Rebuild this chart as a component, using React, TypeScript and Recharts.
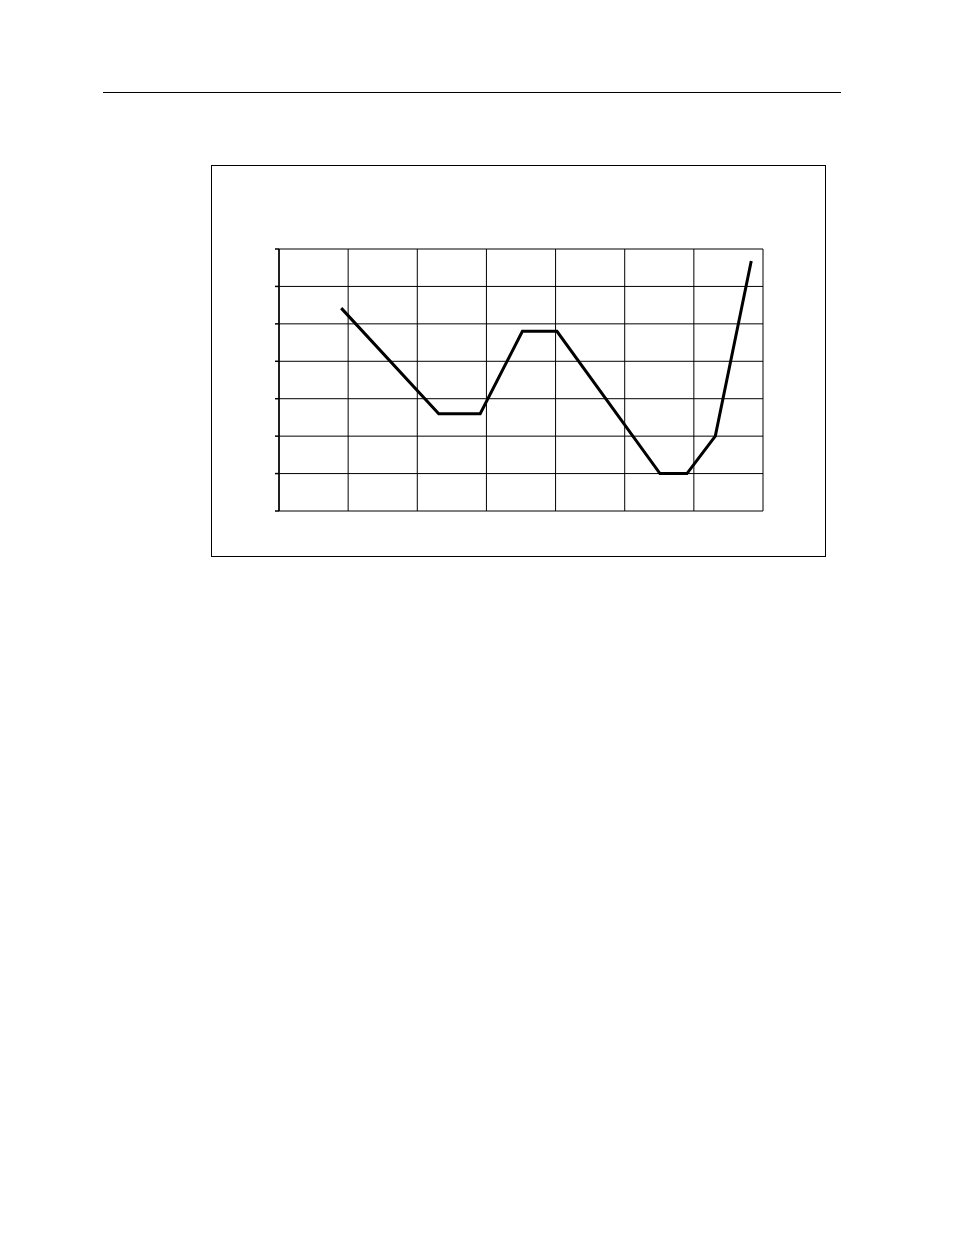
import { LineChart, Line, XAxis, YAxis, CartesianGrid } from 'recharts';

const xValues = [0.9, 2.31, 2.91, 3.52, 4.02, 5.51, 5.9, 6.31, 6.83];
const yValues = [5.42, 2.6, 2.6, 4.8, 4.8, 1.0, 1.0, 2.0, 6.68];
const gridTicks = [0, 1, 2, 3, 4, 5, 6, 7];

const data = xValues.map((x, i) => ({ x, y: yValues[i] }));

export default function App() {
  return (
    <div style={{ position: 'absolute', left: 0, top: 0, width: 954, height: 1235, background: '#fff' }}>
      <div style={{ position: 'absolute', left: 103, top: 92, width: 738, height: 0, borderTop: '1px solid #000' }} />
      <div style={{ position: 'absolute', left: 211, top: 165, width: 613, height: 390, border: '1px solid #000' }}>
        <LineChart width={613} height={390} data={data} margin={{ top: 83, right: 62, bottom: 45, left: 66 }}>
          <CartesianGrid stroke="#000" strokeWidth={1} />
          <XAxis
            type="number"
            dataKey="x"
            domain={[0, 7]}
            ticks={gridTicks}
            axisLine={false}
            tickLine={false}
            tickFormatter={() => ''}
            height={0}
          />
          <YAxis
            type="number"
            domain={[0, 7]}
            ticks={gridTicks}
            interval={0}
            width={1}
            axisLine={{ stroke: '#000', strokeWidth: 1.5 }}
            tickLine={{ stroke: '#000', strokeWidth: 1.5 }}
            tickSize={4}
            tickFormatter={() => ''}
          />
          <Line
            type="linear"
            dataKey="y"
            stroke="#000"
            strokeWidth={3}
            dot={false}
            isAnimationActive={false}
          />
        </LineChart>
      </div>
    </div>
  );
}
